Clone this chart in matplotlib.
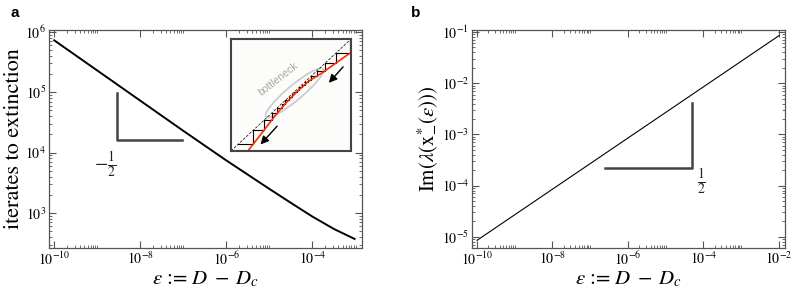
import numpy as np
import matplotlib
matplotlib.use("Agg")
import matplotlib.pyplot as plt
from matplotlib.patches import Ellipse
from matplotlib.ticker import FixedLocator, LogLocator, NullFormatter

plt.rcParams['font.family'] = 'serif'
plt.rcParams['font.serif'] = ['STIXGeneral', 'Liberation Serif', 'DejaVu Serif']
plt.rcParams['mathtext.fontset'] = 'stix'

# panel a: iterates to extinction
eps_a = [1e-10, 1e-9, 1e-8, 1e-7, 1e-6, 1e-5, 3.2e-5, 1e-4, 3.2e-4, 9.5e-4]
iters_a = [7.24e5, 2.29e5, 7.24e4, 2.29e4, 7.4e3, 2.5e3, 1.46e3, 8.7e2, 5.4e2, 3.72e2]

# panel b: imaginary part of eigenvalue
eps_b = [1e-10, 1e-8, 1e-6, 1e-4, 1e-2]
im_b = [8.5e-6, 8.5e-5, 8.5e-4, 8.5e-3, 8.5e-2]

# inset: map near the bottleneck (unit square)
map_u = [0.14, 0.25, 0.36, 0.45, 0.55, 0.65, 0.77, 0.88, 1.0]
map_v = [0.0, 0.15, 0.305, 0.42, 0.53, 0.625, 0.705, 0.79, 0.88]

spine_col = '#555555'
tri_col = '#444444'


def style_axes(ax, xdecades):
    ax.set_xscale('log')
    ax.set_yscale('log')
    for s in ax.spines.values():
        s.set_color(spine_col)
        s.set_linewidth(0.9)
    ax.tick_params(which='both', direction='in', top=True, right=True,
                   colors=spine_col, labelcolor='black', labelsize=10, pad=2)
    ax.tick_params(which='major', length=5, width=0.8)
    ax.tick_params(which='minor', length=2.5, width=0.6)
    ax.xaxis.set_major_locator(FixedLocator([10.0 ** d for d in xdecades]))
    minors = [m * 10.0 ** d for d in xdecades for m in range(2, 11)]
    ax.xaxis.set_minor_locator(FixedLocator(minors))
    ax.xaxis.set_minor_formatter(NullFormatter())
    ax.yaxis.set_major_locator(LogLocator(base=10, numticks=20))
    ax.yaxis.set_minor_locator(LogLocator(base=10, subs=np.arange(2, 10), numticks=20))
    ax.yaxis.set_minor_formatter(NullFormatter())


xlab = r'$\varepsilon$ := $D \;-\; D_c$'

fig = plt.figure(figsize=(7.97, 2.97), dpi=100)

# ---- panel a
ax1 = fig.add_axes([49 / 797, 49 / 297, 313 / 797, 218 / 297])
ax1.plot(eps_a, iters_a, color='black', lw=1.4)
style_axes(ax1, [-10, -8, -6, -4])
ax1.set_xlim(10 ** -10.12, 10 ** -2.85)
ax1.set_ylim(10 ** 2.42, 10 ** 6.03)
ax1.set_xlabel(xlab, fontsize=15, labelpad=1)
ax1.set_ylabel('iterates to extinction', fontsize=16, labelpad=1)
ax1.plot([2.9e-9, 2.9e-9, 9.5e-8], [9.6e4, 1.6e4, 1.6e4], color=tri_col, lw=1.8)
ax1.text(1.5e-9, 6.5e3, r'$-\frac{1}{2}$', fontsize=14, ha='center', va='center', color='#222222')

# inset cobweb diagram
ins = fig.add_axes([231 / 797, (297 - 151) / 297, 120 / 797, 112 / 297])
ins.set_facecolor('#fcfcfa')
ins.set_xlim(0, 1)
ins.set_ylim(0, 1)
ins.set_xticks([])
ins.set_yticks([])
for s in ins.spines.values():
    s.set_color('#444444')
    s.set_linewidth(1.5)
ins.plot([0, 1], [0, 1], color='black', lw=0.5, ls=(0, (4, 2)))
ins.add_patch(Ellipse((0.53, 0.52), 0.64, 0.13, angle=42, fill=False,
                      edgecolor='#cccccc', lw=1.3))
cx, cy = [], []
x = 0.99
for _ in range(60):
    if x < map_u[0]:
        break
    fx = float(np.interp(x, map_u, map_v))
    cx += [x, x, fx]
    cy += [x, fx, fx]
    x = fx
ins.plot(cx, cy, color='black', lw=0.8)
ins.plot(map_u, map_v, color='#ff2a00', lw=1.2)
ins.text(0.39, 0.64, 'bottleneck', rotation=38, color='#a8a8a8', fontsize=7.5,
         family='Liberation Sans', ha='center', va='center')
ins.annotate('', xy=(0.8, 0.59), xytext=(0.95, 0.77),
             arrowprops=dict(arrowstyle='-|>', color='black', lw=1, mutation_scale=12))
ins.annotate('', xy=(0.23, 0.04), xytext=(0.4, 0.24),
             arrowprops=dict(arrowstyle='-|>', color='black', lw=1, mutation_scale=12))

# ---- panel b
ax2 = fig.add_axes([471.7 / 797, 49 / 297, 313.3 / 797, 218 / 297])
ax2.plot(eps_b, im_b, color='black', lw=0.8)
style_axes(ax2, [-10, -8, -6, -4, -2])
ax2.set_xlim(10 ** -10.14, 10 ** -1.84)
ax2.set_ylim(10 ** -5.22, 10 ** -0.96)
ax2.set_xlabel(xlab, fontsize=15, labelpad=1)
ax2.set_ylabel(r'$\mathrm{Im}(\lambda(\mathrm{x}^{*}_{-}(\varepsilon)))$', fontsize=15, labelpad=2)
ax2.plot([2.5e-7, 5.1e-5, 5.1e-5], [2.2e-4, 2.2e-4, 4.1e-3], color=tri_col, lw=1.8)
ax2.text(9.0e-5, 1.2e-4, r'$\frac{1}{2}$', fontsize=14, ha='center', va='center', color='#222222')

fig.text(0.018, 0.955, 'a', fontsize=11, weight='bold', family='Liberation Sans', ha='center', va='center')
fig.text(0.522, 0.955, 'b', fontsize=11, weight='bold', family='Liberation Sans', ha='center', va='center')

fig.savefig('out.png', dpi=100)
